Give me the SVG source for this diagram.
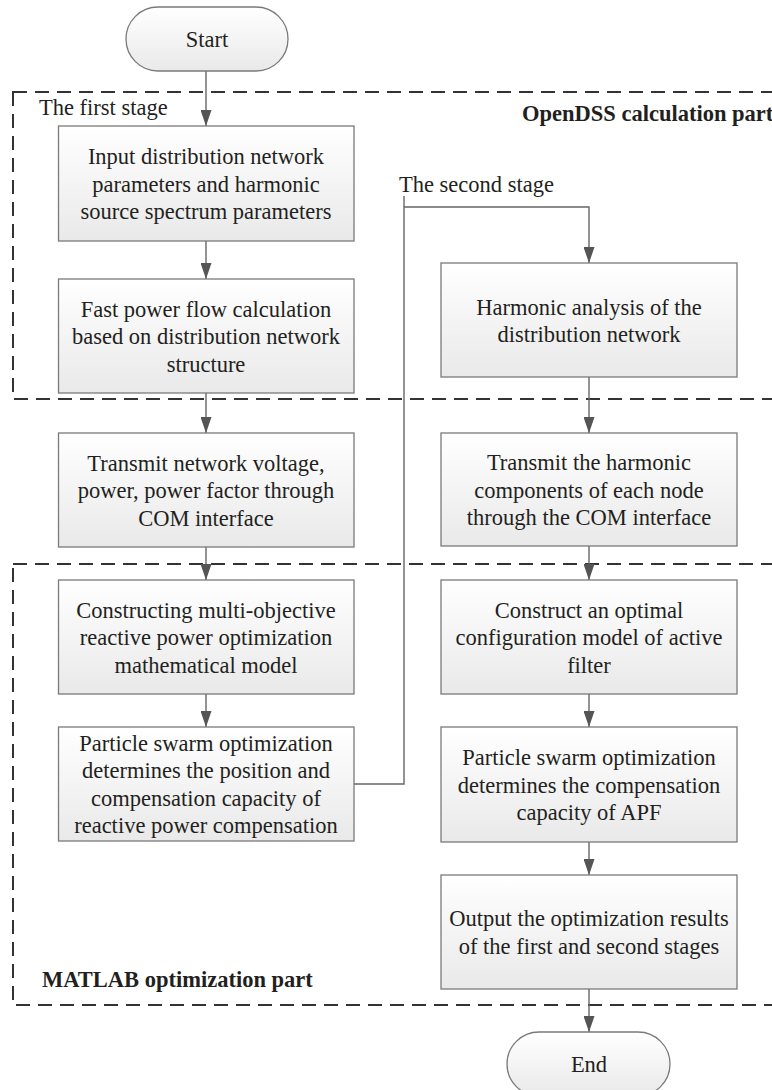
<svg xmlns="http://www.w3.org/2000/svg" width="772" height="1090" viewBox="0 0 772 1090">
<defs>
<linearGradient id="g" x1="0" y1="0" x2="0" y2="1">
<stop offset="0" stop-color="#ffffff"/>
<stop offset="1" stop-color="#e9e9e9"/>
</linearGradient>
<marker id="ah" viewBox="0 0 16 11" refX="16" refY="5.5" markerWidth="16" markerHeight="11" markerUnits="userSpaceOnUse" orient="auto">
<path d="M0,0 L16,5.5 L0,11 Z" fill="#555"/>
</marker>
<style>
.box{fill:url(#g);stroke:#7a7a7a;stroke-width:1.3}
.t{font-family:"Liberation Serif","Times New Roman",serif;font-size:22.5px;fill:#231f20;text-anchor:middle}
.lbl{font-family:"Liberation Serif","Times New Roman",serif;font-size:22.5px;fill:#231f20}
.b{font-weight:bold}
.dash{fill:none;stroke:#333;stroke-width:2;stroke-dasharray:14 8}
.c{fill:none;stroke:#666;stroke-width:1.4}
.arr{marker-end:url(#ah)}
</style>
</defs>
<rect width="772" height="1090" fill="#ffffff"/>

<g id="regions">
<rect class="dash" x="13" y="92" width="800" height="307"/>
<rect class="dash" x="13" y="564" width="800" height="441"/>
<text class="lbl" x="39" y="115">The first stage</text>
<text class="lbl b" x="522" y="121">OpenDSS calculation part</text>
<text class="lbl" x="399" y="192">The second stage</text>
<text class="lbl b" x="42" y="987">MATLAB optimization part</text>
</g>

<g id="connectors">
<path class="c arr" d="M206,71 V126"/>
<path class="c arr" d="M206,241 V279"/>
<path class="c arr" d="M206,393 V433"/>
<path class="c arr" d="M206,547 V580"/>
<path class="c arr" d="M206,694 V727"/>
<path class="c" d="M354,784 H404 V196"/>
<path class="c arr" d="M404,207 H589 V263"/>
<path class="c arr" d="M589,377 V433"/>
<path class="c arr" d="M589,546 V580"/>
<path class="c arr" d="M589,694 V727"/>
<path class="c arr" d="M589,842 V875"/>
<path class="c arr" d="M589,989 V1032"/>
</g>

<g id="start">
<rect class="box" x="126" y="7" width="162" height="64" rx="32" ry="32"/>
<text class="t" x="207" y="47">Start</text>
</g>

<g id="input">
<rect class="box" x="58.5" y="126" width="295.5" height="115"/>
<text class="t" x="206" y="164">Input distribution network</text>
<text class="t" x="206" y="191.5">parameters and harmonic</text>
<text class="t" x="206" y="219">source spectrum parameters</text>
</g>

<g id="powerflow">
<rect class="box" x="58.5" y="279" width="295.5" height="114"/>
<text class="t" x="206" y="316.5">Fast power flow calculation</text>
<text class="t" x="206" y="344">based on distribution network</text>
<text class="t" x="206" y="371.5">structure</text>
</g>

<g id="transmit1">
<rect class="box" x="58.5" y="433" width="295.5" height="114"/>
<text class="t" x="206" y="470.5">Transmit network voltage,</text>
<text class="t" x="206" y="498">power, power factor through</text>
<text class="t" x="206" y="525.5">COM interface</text>
</g>

<g id="construct1">
<rect class="box" x="58.5" y="580" width="295.5" height="114"/>
<text class="t" x="206" y="617.5">Constructing multi-objective</text>
<text class="t" x="206" y="645">reactive power optimization</text>
<text class="t" x="206" y="672.5">mathematical model</text>
</g>

<g id="pso1">
<rect class="box" x="58.5" y="727" width="295.5" height="114"/>
<text class="t" x="206" y="750.5">Particle swarm optimization</text>
<text class="t" x="206" y="778">determines the position and</text>
<text class="t" x="206" y="805.5">compensation capacity of</text>
<text class="t" x="206" y="833">reactive power compensation</text>
</g>

<g id="harmonic">
<rect class="box" x="441" y="263" width="296" height="114"/>
<text class="t" x="589" y="314.5">Harmonic analysis of the</text>
<text class="t" x="589" y="342">distribution network</text>
</g>

<g id="transmit2">
<rect class="box" x="441" y="433" width="296" height="113"/>
<text class="t" x="589" y="470">Transmit the harmonic</text>
<text class="t" x="589" y="497.5">components of each node</text>
<text class="t" x="589" y="525">through the COM interface</text>
</g>

<g id="construct2">
<rect class="box" x="441" y="580" width="296" height="114"/>
<text class="t" x="589" y="617.5">Construct an optimal</text>
<text class="t" x="589" y="645">configuration model of active</text>
<text class="t" x="589" y="672.5">filter</text>
</g>

<g id="pso2">
<rect class="box" x="441" y="727" width="296" height="115"/>
<text class="t" x="589" y="765">Particle swarm optimization</text>
<text class="t" x="589" y="792.5">determines the compensation</text>
<text class="t" x="589" y="820">capacity of APF</text>
</g>

<g id="output">
<rect class="box" x="441" y="875" width="296" height="114"/>
<text class="t" x="589" y="926">Output the optimization results</text>
<text class="t" x="589" y="953.5">of the first and second stages</text>
</g>

<g id="end">
<rect class="box" x="507" y="1032" width="163" height="64" rx="32" ry="32"/>
<text class="t" x="589" y="1072">End</text>
</g>
</svg>
